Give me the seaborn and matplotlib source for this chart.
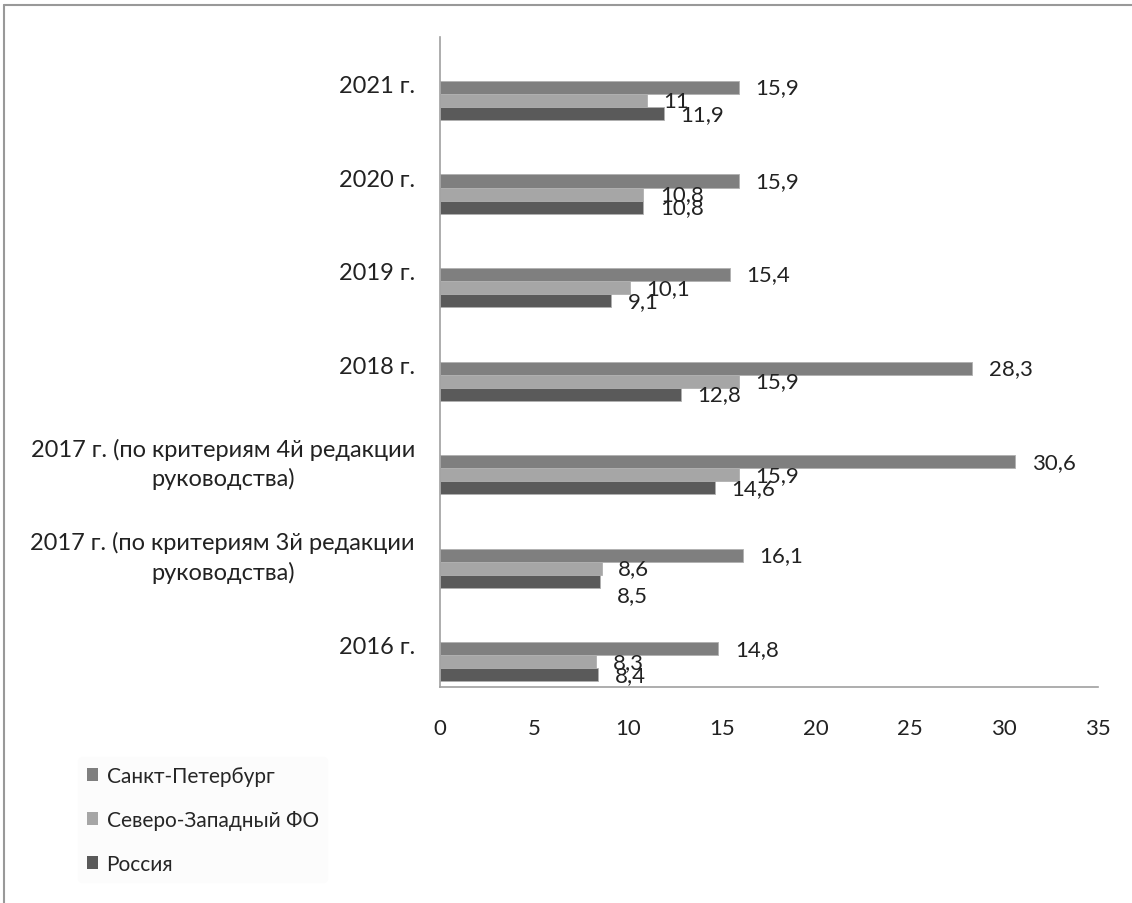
import matplotlib
matplotlib.use('Agg')
import matplotlib.pyplot as plt
import matplotlib.transforms as mtransforms
from matplotlib.lines import Line2D
import pandas as pd
import seaborn as sns

# Data (top to bottom)
years = ['2021 г.', '2020 г.', '2019 г.', '2018 г.',
         '2017 г. (по критериям 4й редакции\nруководства)',
         '2017 г. (по критериям 3й редакции\nруководства)',
         '2016 г.']
series = ['Санкт-Петербург', 'Северо-Западный ФО', 'Россия']
spb = [15.9, 15.9, 15.4, 28.3, 30.6, 16.1, 14.8]
nwfd = [11, 10.8, 10.1, 15.9, 15.9, 8.6, 8.3]
russia = [11.9, 10.8, 9.1, 12.8, 14.6, 8.5, 8.4]
colors = ['#7f7f7f', '#a6a6a6', '#5a5a5a']

df = pd.DataFrame({
    'year': years * 3,
    'series': [series[0]] * 7 + [series[1]] * 7 + [series[2]] * 7,
    'value': spb + nwfd + russia,
})

sns.set_style('white')
plt.rcParams['font.family'] = ['Lato', 'DejaVu Sans']

fig = plt.figure(figsize=(11.32, 9.04), dpi=100)
ax = fig.add_axes([0.3887, 0.2389, 0.5813, 0.7191])

sns.barplot(data=df, x='value', y='year', hue='series', order=years,
            hue_order=series, palette=colors, orient='h', width=0.42,
            gap=0, ax=ax, legend=False, edgecolor='#b0b0b0', linewidth=0.6)

# value labels with comma decimals
label_texts = []
for cont in ax.containers:
    label_texts.append(ax.bar_label(cont, labels=[f'{v:g}'.replace('.', ',') for v in cont.datavalues],
                                    padding=12, fontsize=16, color='#222222'))
# Excel pushed this one label down a bit to avoid its neighbour
label_texts[2][5].xyann = (label_texts[2][5].xyann[0], -10)

ax.set_xlim(0, 35)
ax.set_xticks(range(0, 36, 5))
ax.set_ylim(6.27, -0.68)
ax.set_xlabel('')
ax.set_ylabel('')
ax.tick_params(axis='x', labelsize=16, pad=22, length=0, colors='#222222')
ax.tick_params(axis='y', labelsize=17, pad=18, length=0, colors='#222222')
for lab in ax.get_yticklabels():
    lab.set_multialignment('center')
    lab.set_linespacing(1.4)
    lab.set_transform(lab.get_transform() + mtransforms.ScaledTranslation(0, 17 / 100, fig.dpi_scale_trans))

sns.despine(ax=ax, top=True, right=True)
for s in ['left', 'bottom']:
    ax.spines[s].set_color('#a0a0a0')
    ax.spines[s].set_linewidth(1.2)

# legend under the chart
handles = [plt.Rectangle((0, 0), 1, 1, facecolor=c, edgecolor='none') for c in colors]
leg = fig.legend(handles, series, loc='upper left', bbox_to_anchor=(68 / 1132, 1 - 748 / 904),
                 frameon=True, fontsize=15, labelspacing=1.15, handlelength=0.55,
                 handleheight=0.55, handletextpad=0.4, borderpad=0.4)
leg.get_frame().set_facecolor('#fcfcfc')
leg.get_frame().set_edgecolor('#fcfcfc')

# outer border lines (top and left) like the source picture
fig.add_artist(Line2D([4 / 1132, 1], [1 - 6 / 904, 1 - 6 / 904], color='#999999', lw=1.5))
fig.add_artist(Line2D([4 / 1132, 4 / 1132], [0, 1 - 6 / 904], color='#999999', lw=1.5))

fig.savefig('out.png', dpi=100)
